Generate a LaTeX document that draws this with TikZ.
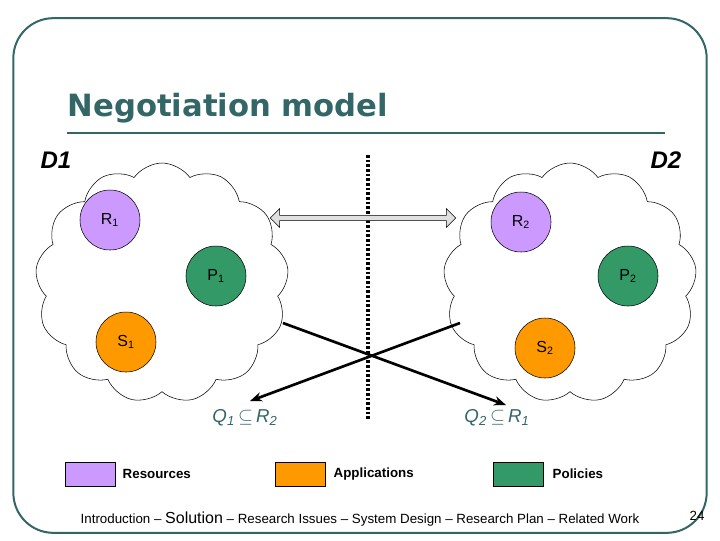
\documentclass[tikz,border=0pt]{standalone}
\usepackage{fontspec}
\setmainfont{Liberation Sans}
\newfontfamily\titlefont{DejaVu Sans}
\usetikzlibrary{shapes.symbols,shapes.arrows,arrows.meta}
\definecolor{teal1}{HTML}{336666}
\definecolor{purp}{HTML}{CC99FF}
\definecolor{orng}{HTML}{FF9900}
\definecolor{grn}{HTML}{339966}
\begin{document}
\begin{tikzpicture}[x=0.75pt,y=-0.75pt,
  cl/.style={cloud,cloud puffs=13,cloud puff arc=110,aspect=1,draw,thin,minimum width=190pt,minimum height=180pt},
  ball/.style={circle,draw,thin,minimum size=45pt,inner sep=0pt,font=\fontsize{12}{12}\selectfont},
  lg/.style={draw,thin,minimum width=37.5pt,minimum height=18pt},
  lgt/.style={font=\fontsize{10}{10}\selectfont\bfseries,anchor=west},
  rel/.style={text=teal1,font=\fontsize{14}{14}\selectfont\itshape}]
\useasboundingbox (0,0) rectangle (720,540);
\node[draw=teal1,line width=1.5pt,rounded corners=30pt,minimum width=520pt,minimum height=386pt] (frame) at (360,275.5) {};
\node[text=teal1,font=\titlefont\fontsize{23}{23}\selectfont\bfseries,anchor=west] (title) at (63,108) {Negotiation model};
\coordinate (ta) at (67,133); \coordinate (tb) at (665,133);
\draw[teal1,line width=2pt] (ta) -- (tb);
\node[font=\fontsize{18}{18}\selectfont\bfseries\itshape] (d1) at (56,160) {D1};
\node[font=\fontsize{18}{18}\selectfont\bfseries\itshape] (d2) at (666,160) {D2};
\node[cl] (c1) at (162,283) {};
\node[cl] (c2) at (570,283) {};
\coordinate (va) at (368,155); \coordinate (vb) at (368,420);
\draw[line width=2.5pt,dash pattern=on 2pt off 1.5pt] (va) -- (vb);
\node[ball,fill=purp] (r1) at (110,220) {R\textsubscript{1}};
\node[ball,fill=grn] (p1) at (216,276) {P\textsubscript{1}};
\node[ball,fill=orng] (s1) at (126,342) {S\textsubscript{1}};
\node[ball,fill=purp] (r2) at (521,222) {R\textsubscript{2}};
\node[ball,fill=grn] (p2) at (628,276) {P\textsubscript{2}};
\node[ball,fill=orng] (s2) at (545,348) {S\textsubscript{2}};
\node[double arrow,draw,thin,fill=gray!25,minimum width=14pt,double arrow head extend=3pt,minimum height=139pt,inner sep=1pt] (da) at (363,218) {};
\coordinate (a1) at (283,323); \coordinate (a2) at (506,405);
\coordinate (b1) at (460,323); \coordinate (b2) at (250,401);
\draw[line width=2pt,-{Stealth[length=9pt,width=7pt]}] (a1) -- (a2);
\draw[line width=2pt,-{Stealth[length=9pt,width=7pt]}] (b1) -- (b2);
\node[rel] (q1) at (245,418) {Q\textsubscript{1}\,$\subseteq$\,R\textsubscript{2}};
\node[rel] (q2) at (497,418) {Q\textsubscript{2}\,$\subseteq$\,R\textsubscript{1}};
\node[lg,fill=purp] (l1) at (90,474) {};
\node[lgt] at (118,474) {Resources};
\node[lg,fill=orng] (l2) at (300,474) {};
\node[lgt] at (329,474) {Applications};
\node[lg,fill=grn] (l3) at (518,474) {};
\node[lgt] at (548,474) {Policies};
\node[font=\fontsize{10}{10}\selectfont] (foot) at (360,519) {Introduction -- {\fontsize{12}{12}\selectfont Solution} -- Research Issues -- System Design -- Research Plan -- Related Work};
\node[font=\fontsize{10}{10}\selectfont] (pg) at (697,516) {24};
\end{tikzpicture}
\end{document}
